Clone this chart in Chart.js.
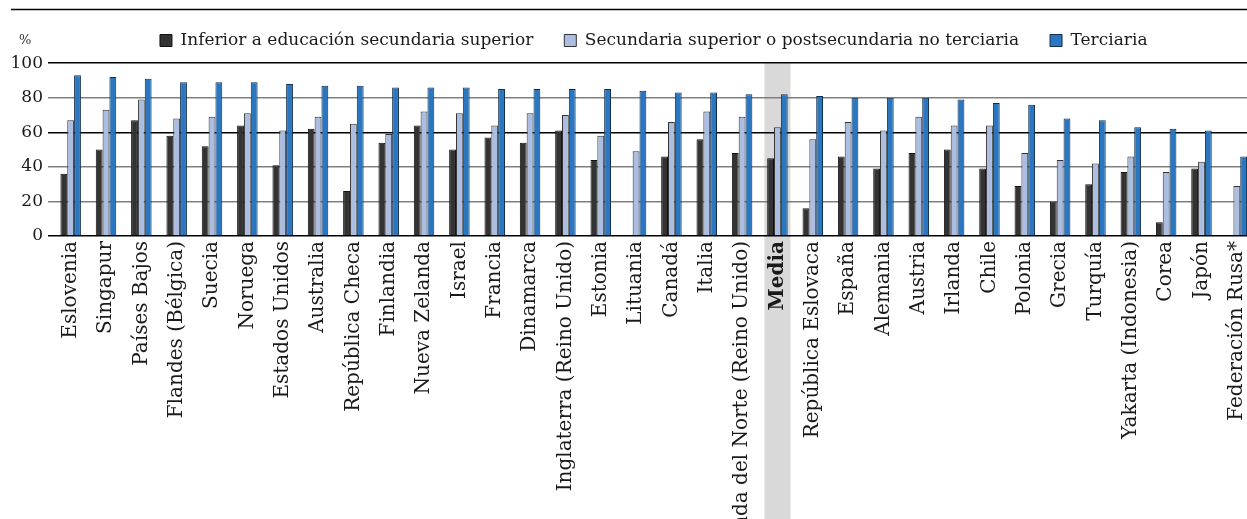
<!DOCTYPE html>
<html>
<head>
<meta charset="utf-8">
<script src="https://cdn.jsdelivr.net/npm/chart.js@4.4.0/dist/chart.umd.min.js"></script>
<style>
  html, body { margin: 0; padding: 0; overflow: hidden; background: #fff; }
  canvas { display: block; }
</style>
</head>
<body>
<canvas id="grafico" width="1266" height="519"></canvas>
<script>
var paises = ['Eslovenia', 'Singapur', 'Países Bajos', 'Flandes (Bélgica)', 'Suecia', 'Noruega',
  'Estados Unidos', 'Australia', 'República Checa', 'Finlandia', 'Nueva Zelanda', 'Israel',
  'Francia', 'Dinamarca', 'Inglaterra (Reino Unido)', 'Estonia', 'Lituania', 'Canadá', 'Italia',
  'Irlanda del Norte (Reino Unido)', 'Media', 'República Eslovaca', 'España', 'Alemania',
  'Austria', 'Irlanda', 'Chile', 'Polonia', 'Grecia', 'Turquía', 'Yakarta (Indonesia)',
  'Corea', 'Japón', 'Federación Rusa*']

var inferior = [36, 50, 67, 58, 52, 64, 41, 62, 26, 54, 64, 50, 57, 54, 61, 44, null, 46, 56,
  48, 45, 16, 46, 39, 48, 50, 39, 29, 20, 30, 37, 8, 39, null]

var secundaria = [67, 73, 79, 68, 69, 71, 61, 69, 65, 59, 72, 71, 64, 71, 70, 58, 49, 66, 72,
  69, 63, 56, 66, 61, 69, 64, 64, 48, 44, 42, 46, 37, 43, 29]

var terciaria = [93, 92, 91, 89, 89, 89, 88, 87, 87, 86, 86, 86, 85, 85, 85, 85, 84, 83, 83,
  82, 82, 81, 80, 80, 80, 79, 77, 76, 68, 67, 63, 62, 61, 46]

var nombresSeries = ['Inferior a educación secundaria superior',
  'Secundaria superior o postsecundaria no terciaria', 'Terciaria']
var colores = ['#333333', '#abbde0', '#2a76bf']
var indiceMedia = 20
var fuente = 'DejaVu Serif'

// banda gris de la media, linea superior y el signo de %
var extras = {
  id: 'extras',
  beforeDraw: function (chart) {
    var ctx = chart.ctx
    var x = chart.scales.x.getPixelForValue(indiceMedia)
    ctx.save()
    ctx.fillStyle = '#d9d9d9'
    ctx.fillRect(x - 13, chart.chartArea.top, 26, chart.height - chart.chartArea.top)
    ctx.restore()
  },
  afterDraw: function (chart) {
    var ctx = chart.ctx
    ctx.save()
    ctx.strokeStyle = '#000'
    ctx.lineWidth = 1.5
    ctx.beginPath()
    ctx.moveTo(11, 9.5)
    ctx.lineTo(chart.width, 9.5)
    ctx.stroke()
    ctx.fillStyle = '#333'
    ctx.font = '13px "' + fuente + '"'
    ctx.textBaseline = 'middle'
    ctx.fillText('%', 19, 41)
    ctx.restore()
  }
}

var grafico = new Chart(document.getElementById('grafico'), {
  type: 'bar',
  data: {
    labels: paises,
    datasets: [
      { label: nombresSeries[0], data: inferior, backgroundColor: colores[0], borderColor: '#111', borderWidth: 1 },
      { label: nombresSeries[1], data: secundaria, backgroundColor: colores[1], borderColor: '#333', borderWidth: 1 },
      { label: nombresSeries[2], data: terciaria, backgroundColor: colores[2], borderColor: '#0f2d4d', borderWidth: 1 },
    ],
  },
  options: {
    responsive: false,
    animation: false,
    layout: { padding: { top: 1 } },
    datasets: { bar: { categoryPercentage: 0.58, barPercentage: 1 } },
    plugins: {
      tooltip: { enabled: false },
      // titulo vacio, solo para dejar hueco entre leyenda y grafico
      title: { display: true, text: '', weight: 500, padding: { top: 0, bottom: 3 }, font: { size: 1 } },
      legend: {
        position: 'top',
        fullSize: false,
        labels: {
          boxWidth: 12,
          boxHeight: 12,
          padding: 31,
          color: '#1a1a1a',
          font: { family: fuente, size: 17 },
        },
      },
    },
    scales: {
      x: {
        afterFit: function (s) { s.height = 283 },
        grid: { display: false, drawTicks: false },
        border: { display: false },
        ticks: {
          autoSkip: false,
          maxRotation: 90,
          minRotation: 90,
          padding: 5,
          color: '#1a1a1a',
          font: function (c) {
            return { family: fuente, size: 20, weight: c.index === indiceMedia ? 'bold' : 'normal' }
          },
        },
      },
      y: {
        min: 0,
        max: 100,
        afterFit: function (s) { s.width = 53 },
        border: { display: false },
        grid: {
          drawTicks: true,
          tickLength: 5,
          lineWidth: 1.5,
          color: function (c) {
            var v = c.tick.value
            return v === 0 || v === 60 || v === 100 ? '#000' : '#808080'
          },
        },
        ticks: {
          stepSize: 20,
          padding: 5,
          color: '#1a1a1a',
          font: { family: fuente, size: 17 },
        },
      },
    },
  },
  plugins: [extras],
})
</script>
</body>
</html>
